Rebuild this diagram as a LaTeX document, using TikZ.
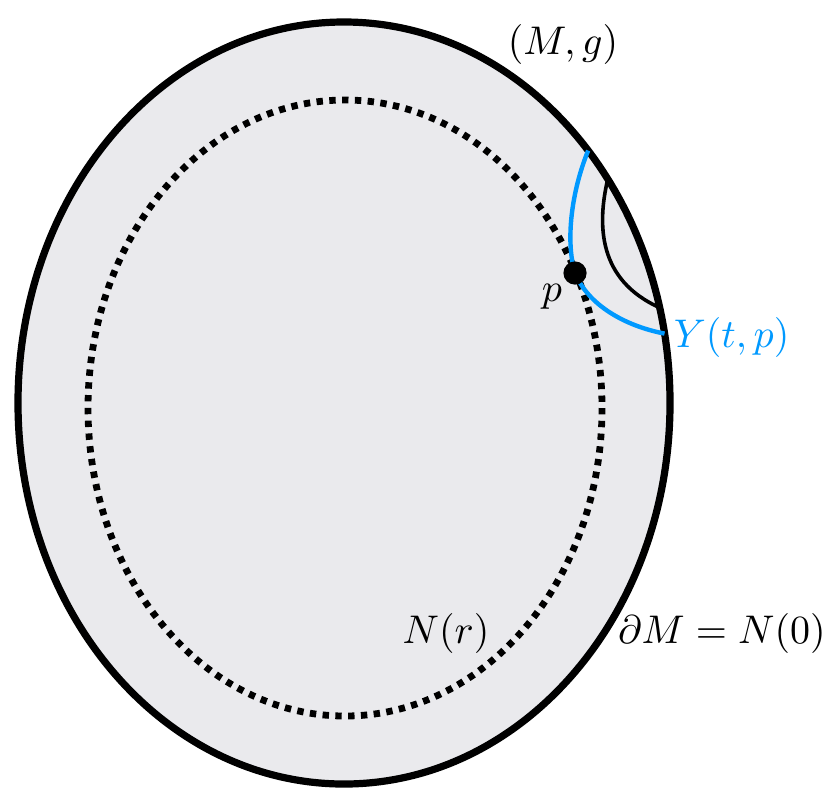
\documentclass[tikz,border=0pt]{standalone}
\usepackage{amsmath}
\usepackage{tikz}
\definecolor{flowblue}{RGB}{0,153,255}
\definecolor{manifold}{RGB}{234,234,237}

\begin{document}
\begin{tikzpicture}[x=0.25pt,y=-0.25pt,
            boundary/.style={line width=1.8pt,fill=manifold},
            level/.style={line width=1.7pt,dash pattern=on 1.6pt off 1.6pt},
            flowline/.style={line width=1.1pt,flowblue},
            curveline/.style={line width=0.9pt},
            dot/.style={circle,fill=black,inner sep=0pt,minimum size=5.8pt},
            every node/.style={inner sep=1pt}]
    \useasboundingbox (0,0) rectangle (830,803);

    \draw[boundary] (344,403) ellipse [x radius=326, y radius=381];
    \draw[level] (345,408) ellipse [x radius=257, y radius=308];

    % end points on the boundary
    \coordinate (b1) at ({344+326*cos(41.5)},{403-381*sin(41.5)});
    \coordinate (b2) at ({344+326*cos(10.5)},{403-381*sin(10.5)});
    \coordinate (k1) at ({344+326*cos(36)},{403-381*sin(36)});
    \coordinate (k2) at ({344+326*cos(14.5)},{403-381*sin(14.5)});
    \coordinate (p) at (575,273);

    \draw[curveline] (k1) .. controls (597,225) and (598,280) .. (k2);
    \draw[flowline] (b1) .. controls (572,190) and (565,240) .. (p)
        .. controls (588,305) and (625,326) .. (b2);
    \node[dot] (pdot) at (p) {};

    \node (Mg) at (563,44) {$(M,g)$};
    \node (plab) at (552,297) {$p$};
    \node[text=flowblue,anchor=west] (Ylab) at (669,337) {$Y(t,p)$};
    \node (Nr) at (446,633) {$N(r)$};
    \node (N0) at (722,633) {$\partial M=N(0)$};
\end{tikzpicture}
\end{document}
